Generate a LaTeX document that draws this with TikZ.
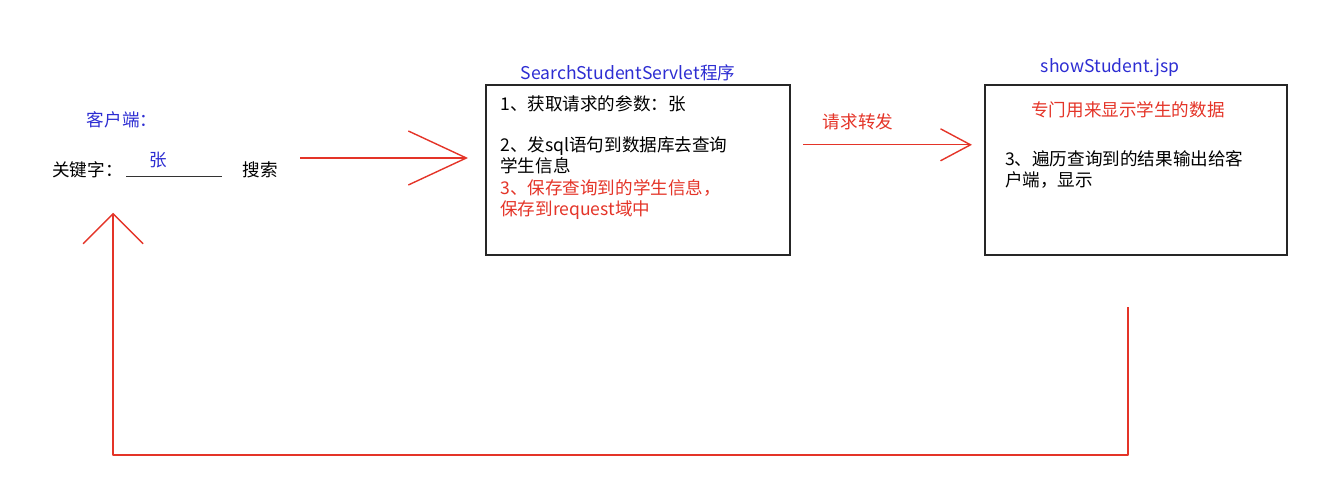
\documentclass[tikz,border=0pt]{standalone}
\usepackage{fontspec}
\setmainfont{Noto Sans CJK SC}
\usetikzlibrary{arrows.meta,positioning}
\definecolor{notered}{RGB}{228,52,40}
\definecolor{noteblue}{RGB}{45,45,210}

\begin{document}
\begin{tikzpicture}[x=1cm,y=1cm]
\tikzset{
  txt/.style={inner sep=0pt,align=left,font=\fontsize{12.5}{15}\selectfont},
  bluetxt/.style={txt,text=noteblue},
  redtxt/.style={txt,text=notered},
  stagebox/.style={draw=black!85,line width=0.9pt,minimum width=7.6cm,minimum height=4.25cm},
  flow/.style={draw=notered,line width=1pt,line join=round}
}
\useasboundingbox (0,0) rectangle (33.45,12.1);
% client
\node[bluetxt] (n_client) at (3.05,9.10) {客户端：};
\node[txt,anchor=west] (n_key) at (1.30,7.85) {关键字：};
\node[bluetxt] (n_zhang) at (3.95,8.10) {张};
\node[txt] (n_search) at (6.50,7.85) {搜索};
\coordinate (u_l) at (3.15,7.68);
\coordinate (u_r) at (5.55,7.68);
\draw[black!80,line width=0.7pt] (u_l) -- (u_r);
% servlet
\node[stagebox] (n_servlet) at (15.95,7.85) {};
\node[bluetxt] (n_servlet_t) at (15.70,10.28) {SearchStudentServlet程序};
\node[txt,anchor=west] (n_s1) at (12.50,9.50) {1、获取请求的参数：张};
\node[txt,anchor=west] (n_s2) at (12.50,8.22) {2、发sql语句到数据库去查询\\学生信息};
\node[redtxt,anchor=west] (n_s3) at (12.50,7.12) {3、保存查询到的学生信息，\\保存到request域中};
% jsp
\node[stagebox,minimum width=7.55cm] (n_jsp) at (28.40,7.85) {};
\node[bluetxt] (n_jsp_t) at (27.75,10.40) {showStudent.jsp};
\node[redtxt] (n_jsp_h) at (28.20,9.35) {专门用来显示学生的数据};
\node[txt,anchor=west] (n_j1) at (25.12,7.87) {3、遍历查询到的结果输出给客\\户端，显示};
% arrows
\coordinate (a1_s) at (7.50,8.15);
\coordinate (a1_e) at (11.70,8.15);
\draw[flow,-{Straight Barb[length=1.45cm,width=1.35cm]}] (a1_s) -- (a1_e);
\coordinate (a2_s) at (20.08,8.48);
\coordinate (a2_e) at (24.30,8.48);
\draw[flow,-{Straight Barb[length=0.75cm,width=0.8cm]}] (a2_s) -- (a2_e);
\node[redtxt] (n_fwd) at (21.45,9.05) {请求转发};
\coordinate (r_s) at (28.20,4.42);
\coordinate (r_c) at (28.20,0.72);
\coordinate (r_e) at (2.83,6.78);
\draw[flow,-{Straight Barb[length=0.75cm,width=1.5cm]}] (r_s) -- (r_c) -| (r_e);
\end{tikzpicture}
\end{document}
